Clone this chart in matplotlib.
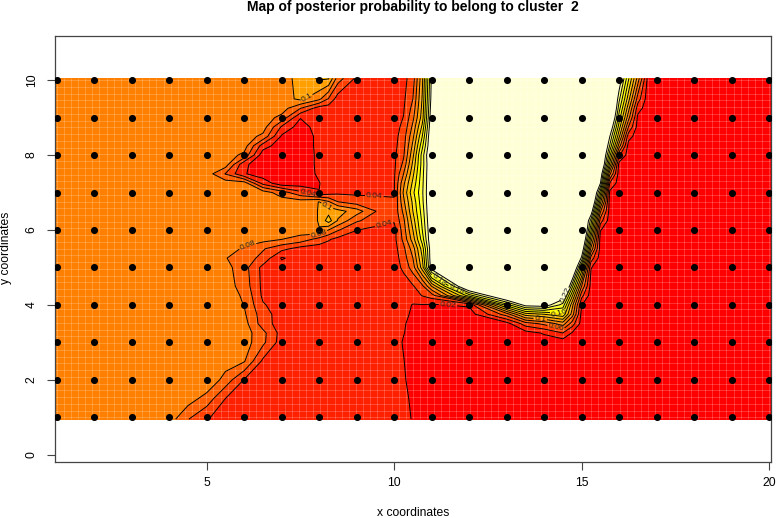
import numpy as np
import matplotlib
matplotlib.use('Agg')
import matplotlib.pyplot as plt
from matplotlib.colors import ListedColormap, BoundaryNorm

plt.rcParams['font.family'] = ['Liberation Sans', 'DejaVu Sans']

# values, one list per row of the grid (low y first)
grid_x = [0.95, 4, 4.5, 5, 5.5, 6, 6.5, 7, 7.5, 8, 8.25, 8.5, 9, 9.5, 10, 10.25, 10.5, 10.75, 11,
          12, 13, 13.5, 14, 14.5, 14.75, 15, 15.25, 15.5, 15.75, 16, 16.25, 16.5, 16.75, 17, 20.05]
grid_y = [0.95, 1.5, 2, 2.5, 3, 3.25, 3.5, 3.75, 4, 4.25, 4.5, 5, 5.25, 5.5, 5.75, 6, 6.25, 6.5, 6.75, 7, 7.25,
          7.5, 7.75, 8, 8.25, 8.5, 8.75, 9, 9.25, 9.5, 10.05]

p_100 = [.09, .09, .061, .041, .033, .03, .03, .03, .03, .03, .03, .03, .03, .03, .03, .028, .018, .012, .01,
         .01, .01, .01, .01, .01, .01, .01, .01, .01, .01, .01, .01, .01, .01, .01, .01]
p_150 = [.09, .09, .09, .072, .04, .03, .03, .03, .03, .03, .03, .03, .03, .03, .03, .025, .016, .012, .01,
         .01, .01, .01, .01, .01, .01, .01, .01, .01, .01, .01, .01, .01, .01, .01, .01]
p_200 = [.09, .09, .09, .098, .072, .039, .03, .028, .028, .028, .028, .028, .028, .028, .028, .022, .014, .011, .01,
         .01, .01, .01, .01, .01, .01, .01, .01, .01, .01, .01, .01, .01, .01, .01, .01]
p_250 = [.09, .09, .09, .09, .09, .082, .036, .029, .028, .028, .028, .028, .028, .027, .026, .0205, .014, .011, .01,
         .01, .01, .01, .01, .01, .01, .01, .01, .01, .01, .01, .01, .01, .01, .01, .01]
p_300 = [.09, .09, .09, .09, .09, .09, .065, .03, .028, .028, .028, .028, .027, .026, .025, .019, .014, .011, .01,
         .01, .01, .01, .01, .008, .01, .01, .01, .01, .01, .01, .01, .01, .01, .01, .01]
p_325 = [.09, .09, .09, .09, .09, .09, .066, .032, .028, .028, .028, .028, .027, .026, .026, .0205, .016, .012, .01,
         .01, .01, .012, .022, .04, .018, .01, .01, .01, .01, .01, .01, .01, .01, .01, .01]
p_350 = [.09, .09, .09, .09, .09, .088, .05, .03, .028, .028, .028, .028, .027, .027, .027, .021, .017, .012, .01,
         .01, .012, .05, .065, .09, .05, .012, .01, .01, .01, .01, .01, .01, .01, .01, .01]
p_375 = [.09, .09, .09, .09, .09, .083, .049, .03, .028, .028, .028, .028, .028, .028, .028, .023, .018, .013, .011,
         .01, .07, .13, .14, .155, .09, .013, .01, .01, .01, .01, .01, .01, .01, .01, .01]
p_400 = [.09, .09, .09, .09, .09, .0795, .042, .03, .03, .03, .03, .03, .03, .03, .03, .026, .019, .019, .018,
         .023, .17, .23, .235, .192, .106, .0205, .01, .01, .01, .01, .01, .01, .01, .01, .01]
p_425 = [.09, .09, .09, .09, .09, .077, .036, .03, .029, .029, .029, .028, .028, .028, .028, .027, .03, .041, .05,
         .17, .27, .3, .3, .24, .143, .047, .01, .01, .01, .01, .01, .01, .01, .01, .01]
p_450 = [.09, .09, .09, .09, .09, .071, .035, .028, .028, .028, .028, .028, .028, .028, .028, .028, .038, .055, .101,
         .27, .3, .3, .3, .3, .186, .08, .012, .01, .01, .01, .01, .01, .01, .01, .01]
p_500 = [.09, .09, .09, .09, .087, .068, .034, .028, .028, .028, .028, .028, .028, .028, .029, .045, .07, .13, .235,
         .3, .3, .3, .3, .3, .28, .155, .021, .01, .01, .01, .01, .01, .01, .01, .01]
p_525 = [.09, .09, .09, .09, .081, .07, .054, .018, .028, .028, .028, .028, .028, .029, .03, .05, .08, .14, .24,
         .3, .3, .3, .3, .3, .3, .214, .052, .01, .01, .01, .01, .01, .01, .01, .01]
p_550 = [.09, .09, .09, .09, .09, .077, .062, .046, .032, .03, .03, .03, .03, .03, .032, .055, .09, .15, .24,
         .3, .3, .3, .3, .3, .3, .25, .095, .012, .01, .01, .01, .01, .01, .01, .01]
p_575 = [.09, .09, .09, .09, .09, .09, .087, .0801, .072, .052, .042, .034, .03, .03, .034, .065, .11, .17, .245,
         .3, .3, .3, .3, .3, .3, .28, .129, .012, .01, .01, .01, .01, .01, .01, .01]
p_600 = [.09, .09, .09, .09, .09, .09, .09, .09, .09, .0995, .08, .062, .0405, .034, .033, .07, .12, .18, .245,
         .3, .3, .3, .3, .3, .3, .3, .163, .021, .01, .01, .01, .01, .01, .01, .01]
p_625 = [.09, .09, .09, .09, .09, .09, .09, .09, .09, .101, .13, .098, .063, .05, .042, .075, .13, .185, .248,
         .3, .3, .3, .3, .3, .3, .3, .19, .05, .01, .01, .01, .01, .01, .01, .01]
p_650 = [.09, .09, .09, .09, .09, .09, .09, .09, .09, .101, .113, .108, .09, .0605, .045, .085, .14, .19, .25,
         .3, .3, .3, .3, .3, .3, .3, .24, .083, .012, .01, .01, .01, .01, .01, .01]
p_675 = [.09, .09, .09, .09, .09, .09, .09, .09, .09, .1005, .083, .0605, .05, .045, .041, .095, .145, .195, .25,
         .3, .3, .3, .3, .3, .3, .3, .28, .126, .012, .01, .01, .01, .01, .01, .01]
p_700 = [.09, .09, .09, .09, .09, .09, .09, .07, .045, .0205, .03, .036, .036, .037, .039, .103, .155, .197, .25,
         .3, .3, .3, .3, .3, .3, .3, .3, .168, .015, .01, .01, .01, .01, .01, .01]
p_725 = [.09, .09, .09, .09, .09, .09, .033, .006, .008, .019, .03, .032, .032, .033, .038, .095, .145, .195, .25,
         .3, .3, .3, .3, .3, .3, .3, .3, .221, .04, .01, .01, .01, .01, .01, .01]
p_750 = [.09, .09, .09, .09, .059, .022, .008, .006, .006, .024, .03, .03, .03, .03, .037, .08, .135, .193, .25,
         .3, .3, .3, .3, .3, .3, .3, .3, .245, .085, .01, .01, .01, .01, .01, .01]
p_775 = [.09, .09, .09, .09, .09, .024, .008, .006, .006, .025, .03, .03, .03, .03, .036, .065, .125, .19, .25,
         .3, .3, .3, .3, .3, .3, .3, .3, .28, .134, .012, .01, .01, .01, .01, .01]
p_800 = [.09, .09, .09, .09, .09, .075, .008, .006, .006, .025, .03, .03, .03, .03, .036, .057, .115, .19, .255,
         .3, .3, .3, .3, .3, .3, .3, .3, .29, .166, .044, .01, .01, .01, .01, .01]
p_825 = [.09, .09, .09, .09, .09, .09, .03, .008, .006, .026, .03, .03, .03, .03, .034, .053, .105, .175, .25,
         .3, .3, .3, .3, .3, .3, .3, .3, .3, .198, .09, .012, .01, .01, .01, .01]
p_850 = [.09, .09, .09, .09, .09, .09, .075, .017, .006, .026, .03, .03, .03, .03, .033, .05, .095, .16, .25,
         .3, .3, .3, .3, .3, .3, .3, .3, .3, .221, .124, .028, .01, .01, .01, .01]
p_875 = [.09, .09, .09, .09, .09, .09, .09, .037, .01, .03, .03, .03, .03, .03, .032, .045, .085, .145, .245,
         .3, .3, .3, .3, .3, .3, .3, .3, .3, .25, .149, .059, .012, .01, .01, .01]
p_900 = [.09, .09, .09, .09, .09, .09, .09, .074, .021, .03, .03, .03, .03, .03, .032, .0405, .075, .13, .24,
         .3, .3, .3, .3, .3, .3, .3, .3, .3, .28, .17, .087, .015, .01, .01, .01]
p_925 = [.09, .09, .09, .09, .09, .09, .09, .09, .0605, .03, .03, .03, .03, .03, .031, .038, .067, .126, .235,
         .3, .3, .3, .3, .3, .3, .3, .3, .3, .3, .188, .107, .028, .011, .01, .01]
p_950 = [.09, .09, .09, .09, .09, .09, .09, .09, .105, .085, .058, .03, .03, .03, .03, .036, .06, .122, .23,
         .3, .3, .3, .3, .3, .3, .3, .3, .3, .3, .205, .128, .05, .012, .01, .01]
p_1000 = [.09, .09, .09, .09, .09, .09, .09, .09, .108, .123, .122, .07, .036, .03, .03, .034, .05, .115, .225,
          .3, .3, .3, .3, .3, .3, .3, .3, .3, .3, .24, .163, .091, .019, .01, .01]

levels = [0, .02, .04, .06, .08, .1, .12, .14, .16, .18, .2, .22, 1]
line_levels = [.02, .04, .06, .08, .1, .12, .14, .16, .18, .2, .22]
heat = ['#FF0000', '#FF2000', '#FF4000', '#FF6000', '#FF8000', '#FF9F00',
        '#FFBF00', '#FFDF00', '#FFFF00', '#FFFF2A', '#FFFF80', '#FFFFD5']

# observation grid
obs_x = list(range(1, 21))
obs_y = list(range(1, 11))

x_ticks = [5, 10, 15, 20]
y_ticks = [0, 2, 4, 6, 8, 10]

label_spots = [(7.7, 9.5), (7.7, 7.02), (9.47, 6.88), (8.25, 6.68), (9.73, 6.12), (8.0, 5.85), (6.1, 5.55),
               (11.44, 4.04), (11.18, 4.67), (11.65, 4.4), (14.5, 4.3), (14.4, 3.76), (14.32, 3.39), (13.9, 3.65)]

z = np.array([p_100, p_150, p_200, p_250, p_300, p_325, p_350, p_375, p_400, p_425, p_450, p_500, p_525, p_550, p_575,
              p_600, p_625, p_650, p_675, p_700, p_725, p_750, p_775, p_800, p_825, p_850, p_875, p_900,
              p_925, p_950, p_1000])

fig = plt.figure(figsize=(7.76, 5.18), dpi=100)
ax = fig.add_axes([55 / 776, 1 - 462 / 518, 716 / 776, 426 / 518])

ax.contourf(grid_x, grid_y, z, levels=levels, cmap=ListedColormap(heat),
            norm=BoundaryNorm(levels, 12), zorder=1)

# the light seams of the original fill
ax.vlines(np.arange(1, 20.05, 0.19), 0.95, 10.05, color='white', alpha=0.2, lw=0.7, zorder=1.5)
ax.hlines(np.arange(1, 10.05, 0.18), 0.95, 20.05, color='white', alpha=0.2, lw=0.7, zorder=1.5)

cs = ax.contour(grid_x, grid_y, z, levels=line_levels, colors='black', linewidths=0.7, zorder=2)
ax.clabel(cs, fmt='%g', fontsize=6, colors='#222222', inline=True, inline_spacing=1, manual=label_spots)

px, py = np.meshgrid(obs_x, obs_y)
ax.scatter(px.ravel(), py.ravel(), s=26, color='black', linewidths=0, zorder=3)

ax.set_xlim(0.955, 20.05)
ax.set_ylim(-0.195, 11.18)
ax.set_xticks(x_ticks)
ax.set_yticks(y_ticks)
ax.tick_params(axis='x', length=5.5, width=0.8, color='#444444', labelsize=8.7, pad=5)
ax.tick_params(axis='y', length=5.5, width=0.8, color='#444444', labelsize=8.7, pad=7)
for t in ax.get_yticklabels():
    t.set_rotation(90)
    t.set_va('center')
for s in ax.spines.values():
    s.set_color('#444444')
    s.set_linewidth(0.9)

ax.set_title('Map of posterior probability to belong to cluster  2', fontsize=10, fontweight='bold', pad=18)
fig.text(413 / 776, 1 - 513 / 518, 'x coordinates', fontsize=8.7, ha='center', va='center')
fig.text(6 / 776, 1 - 248 / 518, 'y coordinates', fontsize=8.7, ha='center', va='center', rotation=90)

fig.savefig('out.png', dpi=100)
